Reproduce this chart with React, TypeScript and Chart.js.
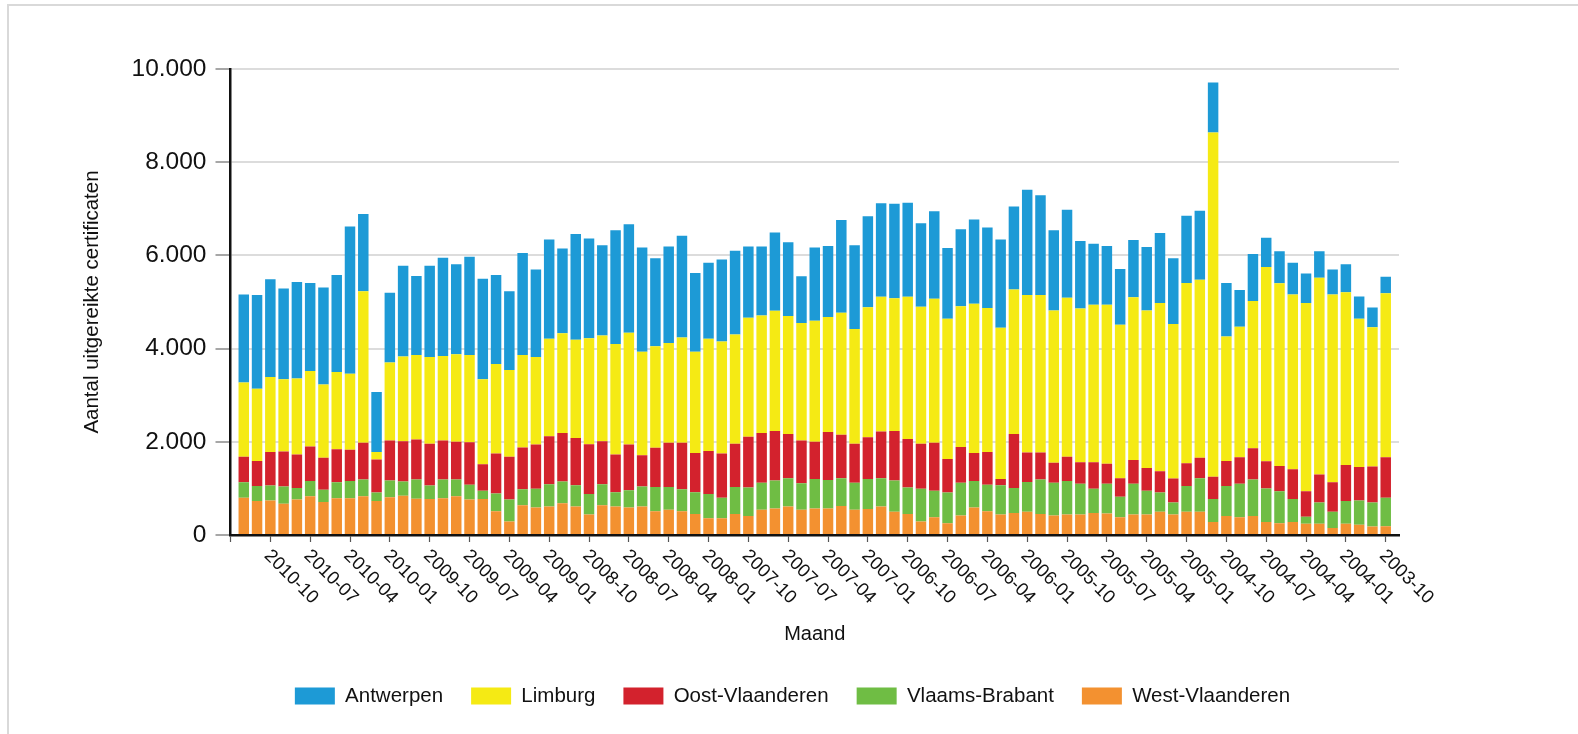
import { useEffect, useRef } from 'react';
import { Chart, registerables } from 'chart.js';

Chart.register(...registerables);

const FONT = "'Liberation Sans', Arial, Helvetica, sans-serif";

const MONTHS = [
  '2010-12', '2010-11', '2010-10', '2010-09', '2010-08', '2010-07', '2010-06', '2010-05', '2010-04', '2010-03', '2010-02', '2010-01',
  '2009-12', '2009-11', '2009-10', '2009-09', '2009-08', '2009-07', '2009-06', '2009-05', '2009-04', '2009-03', '2009-02', '2009-01',
  '2008-12', '2008-11', '2008-10', '2008-09', '2008-08', '2008-07', '2008-06', '2008-05', '2008-04', '2008-03', '2008-02', '2008-01',
  '2007-12', '2007-11', '2007-10', '2007-09', '2007-08', '2007-07', '2007-06', '2007-05', '2007-04', '2007-03', '2007-02', '2007-01',
  '2006-12', '2006-11', '2006-10', '2006-09', '2006-08', '2006-07', '2006-06', '2006-05', '2006-04', '2006-03', '2006-02', '2006-01',
  '2005-12', '2005-11', '2005-10', '2005-09', '2005-08', '2005-07', '2005-06', '2005-05', '2005-04', '2005-03', '2005-02', '2005-01',
  '2004-12', '2004-11', '2004-10', '2004-09', '2004-08', '2004-07', '2004-06', '2004-05', '2004-04', '2004-03', '2004-02', '2004-01',
  '2003-12', '2003-11', '2003-10',
];

// empty time slots at both ends of the axis
const EDGE_START = '2011-01';
const EDGE_END = '2003-09';

const WEST_VLAANDEREN = [
  800, 730, 740, 670, 760, 830, 710, 790, 790, 830, 730, 810,
  840, 780, 770, 790, 830, 760, 770, 510, 290, 640, 590, 610,
  680, 610, 440, 640, 610, 590, 610, 510, 540, 510, 450, 360,
  360, 450, 410, 540, 570, 610, 540, 570, 570, 620, 540, 560,
  610, 500, 450, 290, 380, 250, 420, 590, 510, 440, 470, 500,
  450, 420, 440, 440, 470, 460, 380, 440, 440, 500, 440, 500,
  500, 280, 410, 380, 410, 280, 250, 280, 240, 240, 150, 240,
  220, 180, 190,
];

const VLAAMS_BRABANT = [
  330, 320, 320, 370, 250, 330, 260, 340, 370, 360, 180, 360,
  310, 410, 290, 400, 360, 320, 180, 380, 470, 340, 400, 480,
  470, 460, 440, 450, 310, 370, 430, 520, 490, 470, 470, 520,
  440, 580, 610, 580, 600, 610, 570, 630, 610, 600, 580, 640,
  610, 670, 570, 700, 570, 660, 700, 570, 570, 630, 540, 640,
  740, 700, 720, 660, 520, 640, 440, 660, 510, 410, 260, 550,
  720, 490, 640, 720, 780, 720, 690, 490, 150, 460, 350, 490,
  520, 520, 610,
];

const OOST_VLAANDEREN = [
  550, 540, 720, 750, 720, 740, 690, 710, 670, 790, 710, 860,
  860, 860, 900, 840, 810, 910, 570, 860, 920, 900, 950, 1030,
  1040, 1010, 1070, 920, 810, 980, 670, 840, 950, 1000, 840, 920,
  950, 930, 1090, 1070, 1060, 950, 920, 800, 1030, 930, 840, 900,
  1000, 1060, 1040, 970, 1030, 720, 770, 600, 700, 130, 1160, 630,
  580, 430, 520, 460, 570, 430, 400, 510, 490, 460, 510, 490,
  440, 480, 540, 570, 670, 580, 540, 640, 550, 600, 630, 770,
  720, 770, 870,
];

const LIMBURG = [
  1590, 1550, 1610, 1550, 1630, 1620, 1570, 1660, 1630, 3250, 160, 1670,
  1820, 1810, 1860, 1810, 1880, 1870, 1820, 1920, 1860, 1980, 1880, 2090,
  2140, 2110, 2270, 2270, 2370, 2400, 2220, 2180, 2140, 2260, 2170, 2410,
  2400, 2340, 2550, 2520, 2580, 2530, 2520, 2600, 2470, 2620, 2460, 2790,
  2890, 2850, 3050, 2940, 3090, 3010, 3020, 3200, 3090, 3250, 3100, 3380,
  3380, 3270, 3410, 3300, 3380, 3410, 3290, 3490, 3380, 3610, 3320, 3870,
  3820, 7390, 2670, 2800, 3160, 4170, 3920, 3750, 4040, 4220, 4030, 3710,
  3180, 2990, 3520,
];

const ANTWERPEN = [
  1890, 2010, 2100, 1950, 2070, 1890, 2080, 2080, 3160, 1660, 1290, 1500,
  1950, 1700, 1960, 2110, 1930, 2110, 2160, 1910, 1690, 2190, 1880, 2130,
  1820, 2270, 2140, 1940, 2440, 2330, 2240, 1890, 2070, 2180, 1690, 1630,
  1760, 1800, 1530, 1480, 1680, 1580, 1000, 1570, 1520, 1990, 1800, 1950,
  2010, 2030, 2020, 1790, 1880, 1520, 1650, 1810, 1730, 1890, 1780, 2260,
  2140, 1720, 1890, 1450, 1310, 1260, 1200, 1230, 1360, 1500, 1410, 1440,
  1480, 1070, 1150, 790, 1010, 630, 690, 680, 630, 570, 540, 600,
  480, 420, 350,
];

const Y_TICKS = [0, 2000, 4000, 6000, 8000, 10000];

const SERIES = [
  { label: 'West-Vlaanderen', data: WEST_VLAANDEREN, color: '#f39130' },
  { label: 'Vlaams-Brabant', data: VLAAMS_BRABANT, color: '#6fbd44' },
  { label: 'Oost-Vlaanderen', data: OOST_VLAANDEREN, color: '#d3222d' },
  { label: 'Limburg', data: LIMBURG, color: '#f5ea14' },
  { label: 'Antwerpen', data: ANTWERPEN, color: '#1d9ad6' },
];

const formatThousands = (v: number) =>
  String(v).replace(/\B(?=(\d{3})+(?!\d))/g, '.');

const monthLabelsPlugin = {
  id: 'monthLabels',
  afterDraw(chart: any) {
    const xs = chart.scales.x;
    const ctx = chart.ctx as CanvasRenderingContext2D;
    const y0 = chart.chartArea.bottom;
    ctx.save();
    ctx.font = `18.5px ${FONT}`;
    ctx.fillStyle = '#111';
    ctx.textAlign = 'left';
    ctx.textBaseline = 'middle';
    MONTHS.forEach((m, i) => {
      const idx = i + 1;
      if (idx % 3 !== 0) return;
      const px = xs.getPixelForValue(idx);
      ctx.save();
      ctx.translate(px - 3.3, y0 + 18);
      ctx.rotate(Math.PI / 4);
      ctx.fillText(m, 0, 0);
      ctx.restore();
    });
    ctx.restore();
  },
};

export default function App() {
  const canvasRef = useRef<HTMLCanvasElement | null>(null);

  useEffect(() => {
    document.documentElement.style.overflow = 'hidden';
    document.body.style.overflow = 'hidden';
    const canvas = canvasRef.current;
    if (!canvas) return;

    const labels = [EDGE_START, ...MONTHS, EDGE_END];

    const chart = new Chart(canvas, {
      type: 'bar',
      data: {
        labels,
        datasets: SERIES.map((s) => ({
          label: s.label,
          data: [null, ...s.data, null] as any,
          backgroundColor: s.color,
          borderColor: s.color,
          borderWidth: 0,
          categoryPercentage: 1,
          barPercentage: 0.79,
        })),
      },
      options: {
        responsive: false,
        animation: false,
        devicePixelRatio: 1,
        layout: { padding: { top: 69, left: 7, right: 0, bottom: 17.75 } },
        font: { family: FONT },
        plugins: {
          tooltip: { enabled: false },
          legend: {
            position: 'bottom',
            reverse: true,
            labels: {
              boxWidth: 40,
              boxHeight: 17,
              padding: 28,
              color: '#111',
              font: { family: FONT, size: 20.5 },
            },
          },
        },
        scales: {
          x: {
            type: 'category',
            stacked: true,
            offset: false,
            grid: {
              display: true,
              offset: false,
              drawOnChartArea: false,
              drawTicks: true,
              tickLength: 7,
              tickWidth: 1.2,
              tickColor: (c: any) => (c.index % 3 === 0 ? '#555' : 'rgba(0,0,0,0)'),
            },
            border: { display: true, color: '#111', width: 2.5 },
            ticks: { display: false },
            title: {
              display: true,
              text: 'Maand',
              color: '#111',
              font: { family: FONT, size: 20 },
              padding: { top: 0, bottom: 11.45 },
            },
            afterFit: (s: any) => {
              s.height = 122.75;
            },
          },
          y: {
            type: 'linear',
            stacked: true,
            min: 0,
            max: 10000,
            afterBuildTicks: (s: any) => {
              s.ticks = Y_TICKS.map((v) => ({ value: v }));
            },
            ticks: {
              padding: 9,
              color: '#111',
              font: { family: FONT, size: 24.5 },
              callback: (v: any) => formatThousands(Number(v)),
            },
            grid: {
              color: '#dcdcdc',
              lineWidth: 2,
              drawTicks: true,
              tickLength: 15,
              tickColor: '#8a8a8a',
              tickWidth: 1.5,
            },
            border: { display: true, color: '#111', width: 2.5 },
            title: {
              display: true,
              text: 'Aantal uitgereikte certificaten',
              color: '#111',
              font: { family: FONT, size: 20.5 },
              padding: { top: 73.3, bottom: 0 },
            },
            afterFit: (s: any) => {
              s.width = 223.5;
            },
          },
          spacer: {
            type: 'linear',
            position: 'right',
            display: true,
            grid: { display: false, drawTicks: false },
            border: { display: false },
            ticks: { display: false },
            afterFit: (s: any) => {
              s.width = 179;
            },
          },
        },
      } as any,
      plugins: [monthLabelsPlugin],
    });

    return () => {
      chart.destroy();
    };
  }, []);

  return (
    <>
      <div
        style={{
          position: 'fixed',
          left: 7,
          top: 4,
          width: 1640,
          height: 820,
          border: '2px solid #d9d9d9',
          background: '#fff',
          boxSizing: 'border-box',
        }}
      />
      <canvas
        ref={canvasRef}
        width={1578}
        height={734}
        style={{ position: 'fixed', left: 0, top: 0, width: 1578, height: 734, zIndex: 1 }}
      />
    </>
  );
}
